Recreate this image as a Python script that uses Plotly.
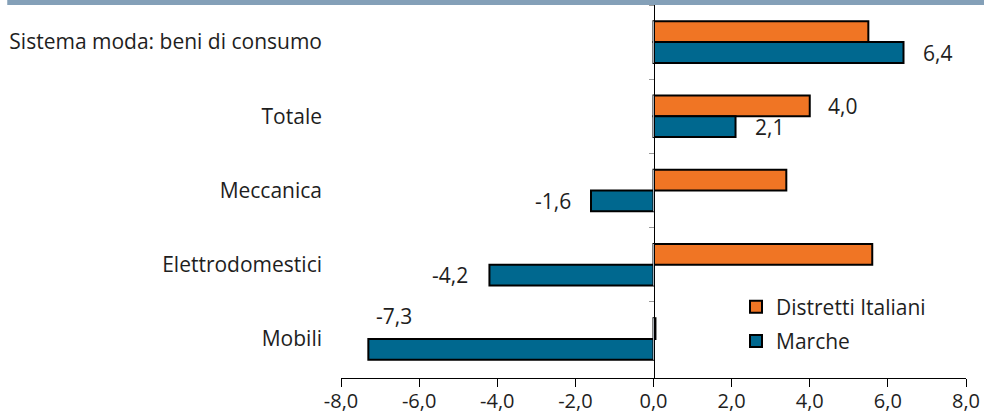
import plotly.graph_objects as go

categories = ["Sistema moda: beni di consumo", "Totale", "Meccanica", "Elettrodomestici", "Mobili"]
distretti = [5.5, 4.0, 3.4, 5.6, 0.05]
marche = [6.4, 2.1, -1.6, -4.2, -7.3]
x_ticks = [-8, -6, -4, -2, 0, 2, 4, 6, 8]
x_tick_labels = ["-8,0", "-6,0", "-4,0", "-2,0", "0,0", "2,0", "4,0", "6,0", "8,0"]
series_names = ["Distretti Italiani", "Marche"]

ORANGE = "#F07524"
BLUE = "#00688F"
FONT = "Open Sans"
TXT = "#1e1e1e"
FS = 21

fig = go.Figure()
fig.add_trace(go.Bar(y=categories, x=distretti, orientation="h", name=series_names[0],
                     marker=dict(color=ORANGE, line=dict(color="black", width=2)),
                     legendgroup="a"))
fig.add_trace(go.Bar(y=categories, x=marche, orientation="h", name=series_names[1],
                     marker=dict(color=BLUE, line=dict(color="black", width=2)),
                     legendgroup="b"))
# invisible trace to carry the zero axis
fig.add_trace(go.Bar(y=categories, x=[0] * len(categories), orientation="h", yaxis="y2",
                     showlegend=False, hoverinfo="skip", marker=dict(color="rgba(0,0,0,0)")))

def fmt(v):
    return f"{v:.1f}".replace(".", ",")

ann = []
lab = [
    (marche[0], categories[0], "left", 17, -10.5),
    (distretti[1], categories[1], "left", 16, 10.5),
    (marche[1], categories[1], "left", 17, -10.5),
    (marche[2], categories[2], "right", -18, -10.5),
    (marche[3], categories[3], "right", -19, -10.5),
    (marche[4], categories[4], "left", 6, 23),
]
for v, c, xa, xs, ys in lab:
    ann.append(dict(x=v, y=c, text=fmt(v), showarrow=False, xanchor=xa, yanchor="middle",
                    xshift=xs, yshift=ys, font=dict(family=FONT, size=FS, color=TXT)))

fig.update_layout(
    width=984, height=415,
    margin=dict(l=341, r=18, t=5, b=37, autoexpand=False),
    plot_bgcolor="white", paper_bgcolor="white",
    barmode="group", bargap=0.44, bargroupgap=0,
    font=dict(family=FONT, size=FS, color=TXT),
    showlegend=True,
    legend=dict(x=0.632, y=0.245, xanchor="left", yanchor="top", bgcolor="rgba(0,0,0,0)",
                traceorder="grouped", tracegroupgap=4, itemwidth=30,
                font=dict(family=FONT, size=FS, color=TXT)),
    xaxis=dict(range=[-8, 8], tickvals=x_ticks, ticktext=x_tick_labels, showgrid=False,
               zeroline=False, showline=True, linecolor="black", linewidth=1,
               ticks="outside", ticklen=8, tickcolor="black", tickwidth=1, automargin=False,
               ticklabelstandoff=-3,
               tickfont=dict(family=FONT, size=20, color=TXT)),
    yaxis=dict(categoryorder="array", categoryarray=categories, autorange="reversed",
               showgrid=False, zeroline=False, showline=False, ticks="", automargin=False,
               ticklabelstandoff=18, tickfont=dict(family=FONT, size=21, color=TXT)),
    yaxis2=dict(overlaying="y", matches="y", anchor="free", position=0.5, side="left",
                showticklabels=False, showline=True, linecolor="black", linewidth=1,
                ticks="outside", tickson="boundaries", ticklen=5, tickcolor="#999999",
                showgrid=False, zeroline=False, automargin=False),
    annotations=ann,
    shapes=[dict(type="rect", xref="paper", yref="paper", x0=-0.534, x1=1.03,
                 y0=1.0, y1=1.014, fillcolor="#84A0B8", line=dict(width=0), layer="above")],
)

fig.write_html("out.html")
